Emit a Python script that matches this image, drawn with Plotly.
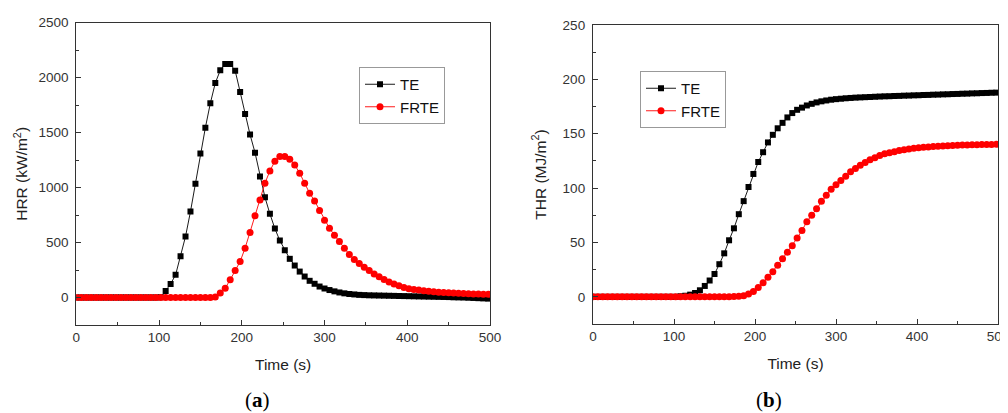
import plotly.graph_objects as go

time_s = list(range(0, 504, 6))

hrr_te = [0] * 17 + [3] + [
    60, 124, 206, 376, 555, 782, 1036, 1309, 1545, 1767, 1952, 2067, 2124, 2124,
    2064, 1870, 1670, 1482, 1318, 1100, 912, 761, 627, 518, 430, 352, 291, 236,
    191, 152, 125, 100, 82, 68, 56, 46, 38, 32, 28, 24, 22, 20, 19, 18, 17, 16,
    15, 14, 13, 12, 11, 10, 9, 8, 7, 6, 5, 4, 2, 1, 0, -2, -4, -6, -8, -10]

hrr_frte = [0] * 28 + [
    4, 40, 85, 161, 246, 328, 449, 591, 743, 888, 1040, 1152, 1240, 1282, 1282,
    1258, 1206, 1131, 1040, 949, 879, 791, 703, 630, 567, 510, 448, 391, 345,
    310, 275, 245, 215, 190, 165, 142, 123, 106, 92, 80, 74, 68, 62, 57, 53, 49,
    46, 43, 40, 38, 36, 34, 32, 31, 30, 29]

thr_te = [0] * 18 + [
    0.5, 1, 2, 3.5, 6, 10, 15, 21, 30, 40, 52, 63, 76, 88, 101, 113, 124, 133,
    142, 149, 155, 160, 165, 169, 172, 174, 176, 177.5, 178.8, 179.8, 180.6,
    181.3, 181.8, 182.2, 182.6, 182.9, 183.2, 183.4, 183.6, 183.8, 184, 184.2,
    184.4, 184.5, 184.7, 184.8, 185, 185.1, 185.3, 185.4, 185.6, 185.7, 185.9,
    186, 186.2, 186.3, 186.5, 186.6, 186.8, 186.9, 187.1, 187.2, 187.4, 187.5,
    187.7, 187.8]

thr_frte = [0] * 28 + [
    0, 0.2, 0.5, 1, 2.5, 5, 8.5, 13, 18, 23, 29, 35, 41, 47, 54, 61, 69, 75, 81,
    88, 93.5, 99, 103, 107, 111, 115, 118, 121, 123.6, 126, 128, 130, 131.5,
    132.5, 133.5, 134.5, 135.3, 136, 136.6, 137.1, 137.5, 137.9, 138.2, 138.5,
    138.8, 139, 139.2, 139.4, 139.6, 139.7, 139.8, 139.9, 140, 140.1, 140.2,
    140.3][:56]

series_names = ["TE", "FRTE"]
x_ticks = [0, 100, 200, 300, 400, 500]
hrr_ticks = [0, 500, 1000, 1500, 2000, 2500]
thr_ticks = [0, 50, 100, 150, 200, 250]

fig = go.Figure()

def add(x, y, name, color, symbol, size, xa, ya, legend):
    fig.add_trace(go.Scatter(
        x=x, y=y[:len(x)], name=name, mode="lines+markers",
        line=dict(color=color, width=0.9),
        marker=dict(color=color, symbol=symbol, size=size, line=dict(width=0)),
        xaxis=xa, yaxis=ya, legend=legend, cliponaxis=True))

add(time_s, hrr_te, series_names[0], "#000000", "square", 6, "x", "y", "legend")
add(time_s, hrr_frte, series_names[1], "#ff0000", "circle", 7, "x", "y", "legend")
add(time_s, thr_te, series_names[0], "#000000", "square", 6, "x2", "y2", "legend2")
add(time_s, thr_frte, series_names[1], "#ff0000", "circle", 7, "x2", "y2", "legend2")

# page body adds an 8px offset; positions below are in screen pixels
OFF = 8
W, H = 1008, 413
def dx(a, b):
    return [(a - OFF) / W, (b - OFF) / W]
def dy(top, bottom):
    return [(H - (bottom - OFF)) / H, (H - (top - OFF)) / H]
def px(x):
    return (x - OFF) / W
def py(y):
    return (H - (y - OFF)) / H

axis_common = dict(
    showline=True, linecolor="#333333", linewidth=1.3, mirror=True,
    ticks="inside", ticklen=5, tickwidth=1.1, tickcolor="#333333",
    showgrid=False, zeroline=False, automargin=False, ticklabeloverflow="allow",
    tickfont=dict(family="Liberation Sans, Arial", size=13.5, color="#333333"),
    title_font=dict(family="Liberation Sans, Arial", size=15.5, color="#222222"),
)

fig.update_layout(
    width=W, height=H,
    margin=dict(l=0, r=0, t=0, b=0, autoexpand=False),
    paper_bgcolor="white", plot_bgcolor="white",
    xaxis=dict(domain=dx(76.3, 490), range=[0, 500], tickvals=x_ticks,
               minor=dict(ticks="inside", ticklen=3, dtick=50, tickcolor="#333333"),
               title=dict(text="Time (s)", standoff=14), anchor="y", **axis_common),
    yaxis=dict(domain=dy(22.7, 325), range=[-250, 2500], tickvals=hrr_ticks,
               minor=dict(ticks="inside", ticklen=3, tickvals=[250, 750, 1250, 1750, 2250], tickcolor="#333333"),
               ticklabelstandoff=4,
               title=dict(text="HRR (kW/m<sup>2</sup>)", standoff=6), anchor="x", **axis_common),
    xaxis2=dict(domain=dx(593, 998), range=[0, 500], tickvals=x_ticks,
                minor=dict(ticks="inside", ticklen=3, dtick=50, tickcolor="#333333"),
                title=dict(text="Time (s)", standoff=14), anchor="y2", **axis_common),
    yaxis2=dict(domain=dy(25, 324), range=[-25, 250], tickvals=thr_ticks,
                minor=dict(ticks="inside", ticklen=3, tickvals=[25, 75, 125, 175, 225], tickcolor="#333333"),
                ticklabelstandoff=4,
                title=dict(text="THR (MJ/m<sup>2</sup>)", standoff=12), anchor="x2", **axis_common),
    legend=dict(x=px(359), y=py(67), xanchor="left", yanchor="top",
                bordercolor="#999999", borderwidth=1, bgcolor="white",
                font=dict(family="Liberation Sans, Arial", size=15, color="#111111"),
                tracegroupgap=0, itemwidth=30),
    legend2=dict(x=px(640), y=py(71), xanchor="left", yanchor="top",
                 bordercolor="#999999", borderwidth=1, bgcolor="white",
                 font=dict(family="Liberation Sans, Arial", size=15, color="#111111"),
                 tracegroupgap=0, itemwidth=30),
    showlegend=True,
)

fig.add_annotation(text="(<b>a</b>)", x=px(257), y=py(400), xref="paper", yref="paper",
                   xanchor="center", yanchor="middle", showarrow=False,
                   font=dict(family="Liberation Serif, DejaVu Serif", size=21, color="#000000"))
fig.add_annotation(text="(<b>b</b>)", x=px(769), y=py(400), xref="paper", yref="paper",
                   xanchor="center", yanchor="middle", showarrow=False,
                   font=dict(family="Liberation Serif, DejaVu Serif", size=21, color="#000000"))

fig.write_html("out.html")
